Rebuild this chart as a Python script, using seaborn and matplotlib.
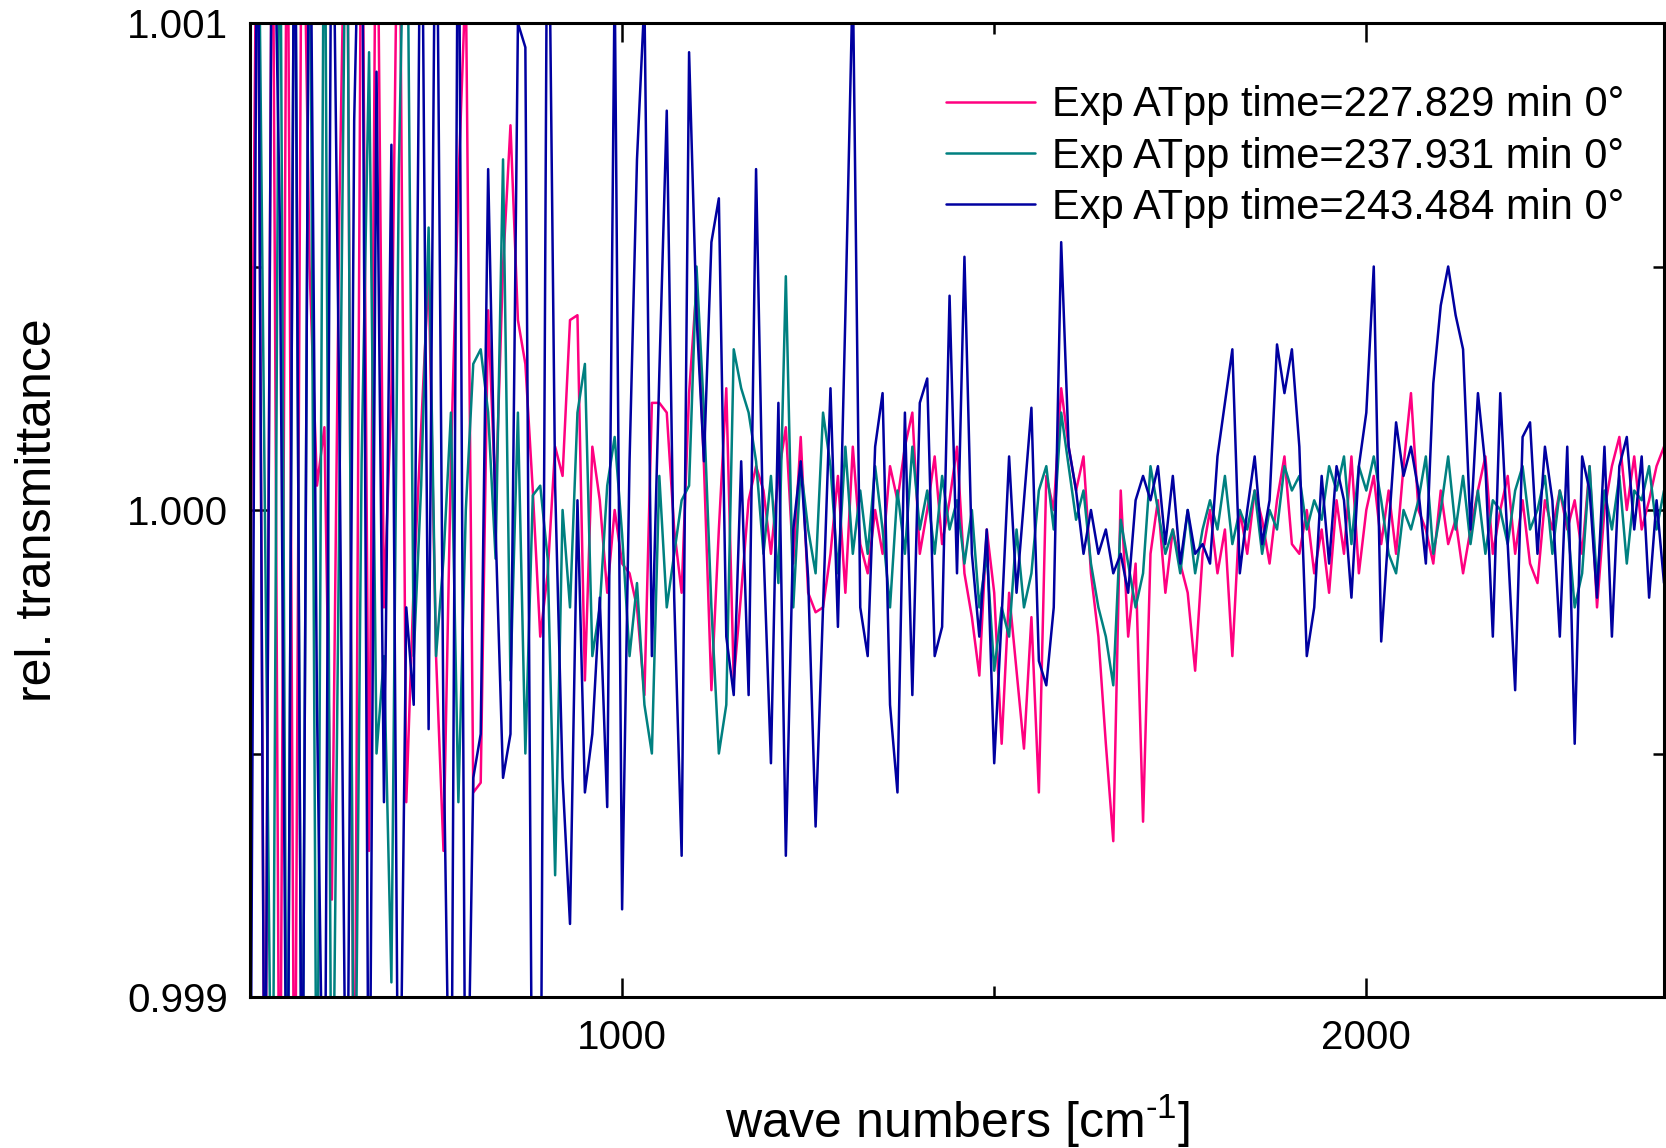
import numpy as np
import pandas as pd
import matplotlib
matplotlib.use("Agg")
import matplotlib.pyplot as plt
import seaborn as sns
from matplotlib.ticker import FixedLocator, FormatStrFormatter

# wave number grid [cm^-1]
wavenumbers = np.arange(500, 2401, 10)

# deviations from 1.0 in units of 1e-5
pink_dev = [
    -30, 150, -150, 150, -150, 150, -150, 150, 50, 5,
    17, -80, 61, 150, -150, 150, -70, 150, -20, 24,
    150, -60, -15, 17, 49, -30, -70, 10, 67, 110,
    -58, -56, 41, 2, 50, 79, 39, 30, 4, -26,
    -13, 13, 7, 39, 40, -35, 13, 2, -17, 0,
    -11, -13, -20, -38, 22, 22, 20, -4, -17, 24,
    46, 9, -37, -4, 25, -35, -17, 2, 9, 4,
    -9, 7, 17, -11, 15, -17, -21, -20, -9, 7,
    -17, 13, -7, -13, 0, -9, 9, 2, 13, 20,
    -9, 0, 11, -7, 2, 13, -13, -22, -34, -4,
    -17, -48, -17, -33, -49, -22, -58, 7, 0, 25,
    13, 4, 11, -13, -26, -48, -68, 4, -26, -11,
    -64, -9, 2, -17, -4, -11, -17, -33, -9, 0,
    -13, -4, -30, 0, -9, 4, -2, -11, 2, 11,
    -7, -9, 0, -13, -4, -17, 2, -9, 11, -13,
    0, 7, -7, 4, -9, 9, 24, 0, -4, -11,
    4, -7, -2, -13, -4, 4, 11, -9, 0, 7,
    -9, 2, -11, -15, 2, -4, 4, -4, 2, -9,
    9, -20, 0, 9, 15, 0, 11, -4, 2, 9,
    13]

teal_dev = [
    150, 150, 0, -150, 150, -150, 150, -150, 150, -150,
    150, -150, 0, 150, -150, 10, 94, -50, -30, -97,
    70, 150, -30, 5, 58, -30, -10, 20, -60, 0,
    30, 33, 20, -10, 72, -35, 20, -50, 3, 5,
    -10, -75, 0, -20, 20, 30, -30, -20, 5, 15,
    -5, -30, -15, -40, -50, 7, -20, -9, 2, 5,
    50, 20, -20, -50, -40, 33, 25, 20, 10, -9,
    7, -15, 48, -20, 9, -4, -13, 20, 9, -13,
    13, -9, 4, -9, 9, -4, -20, 4, -9, 13,
    -4, 4, -9, 7, -4, 2, -11, 0, -20, -9,
    -33, -20, -26, -4, -20, -13, 4, 9, -4, 20,
    9, -2, 4, -11, -20, -26, -36, -2, -11, -20,
    -13, 9, 0, -9, -4, -13, 0, -13, -4, 2,
    -4, 7, -7, 0, -4, 4, -9, 0, -4, 9,
    4, 7, -4, 2, -2, 9, 4, 11, -7, 9,
    4, 11, 2, -9, -13, 0, -4, 2, 11, -9,
    0, 11, -4, 7, -7, 4, -9, 2, 0, -7,
    4, 9, -4, 0, 7, -9, 4, -2, -20, -13,
    9, -15, 4, -4, 7, -11, 4, 2, 9, -4,
    4]

blue_dev = [
    -150, 150, -150, 150, 60, -150, 150, -150, 150, -40,
    -150, 150, 20, -150, 80, 150, -150, 90, -60, 75,
    -150, -20, -40, 150, -45, 150, -46, -150, 150, -150,
    -55, -46, 70, -4, -55, -46, 100, 95, -150, -150,
    150, 5, -55, -85, 2, -58, -46, -18, -61, 110,
    -82, 10, 72, 105, -30, 28, 82, -18, -71, 94,
    40, 10, 55, 64, -26, -38, 10, -38, 70, -8,
    -52, 22, -71, -4, 10, -14, -65, -20, 25, -24,
    40, 110, -20, -30, 13, 24, -40, -58, 20, -38,
    22, 27, -30, -24, 44, -13, 52, -9, -26, -4,
    -52, -22, 11, -17, 2, 21, -31, -36, -20, 55,
    13, 4, -9, 0, -9, -4, -13, -9, -17, 2,
    7, 2, 9, -7, 7, -11, 0, -9, -7, -11,
    11, 22, 33, -13, 0, 11, -7, 2, 34, 24,
    33, 13, -30, -20, 7, -11, 9, 2, -18, 9,
    20, 50, -27, -4, 18, 7, 13, 4, -11, 26,
    42, 50, 40, 33, -4, 24, 9, -26, 24, -7,
    -37, 15, 18, -9, 13, 2, -26, 13, -48, 11,
    4, -18, 13, -26, 9, 15, -4, 11, -18, 2,
    -15]

series_labels = [
    "Exp ATpp time=227.829 min 0°",
    "Exp ATpp time=237.931 min 0°",
    "Exp ATpp time=243.484 min 0°",
]
series_colors = ["#FF0080", "#008080", "#0000A0"]

frames = []
for lab, dev in zip(series_labels, [pink_dev, teal_dev, blue_dev]):
    frames.append(pd.DataFrame({
        "wn": wavenumbers,
        "T": 1.0 + np.array(dev, dtype=float) * 1e-5,
        "series": lab,
    }))
df = pd.concat(frames, ignore_index=True)

sns.set_theme(style="white")
plt.rcParams["font.family"] = ["Liberation Sans", "DejaVu Sans"]
plt.rcParams["mathtext.fontset"] = "custom"
plt.rcParams["mathtext.rm"] = "Liberation Sans"
plt.rcParams["mathtext.it"] = "Liberation Sans:italic"
plt.rcParams["text.color"] = "black"
plt.rcParams["axes.labelcolor"] = "black"
plt.rcParams["xtick.color"] = "black"
plt.rcParams["ytick.color"] = "black"

fig = plt.figure(figsize=(16.66, 11.48), dpi=100)
ax = fig.add_axes([250 / 1666, 1 - 997 / 1148, 1414 / 1666, (997 - 23) / 1148])

sns.lineplot(data=df, x="wn", y="T", hue="series", palette=series_colors,
             hue_order=series_labels, estimator=None, sort=False,
             linewidth=1.8, ax=ax)

ax.set_xlim(500, 2400)
ax.set_ylim(0.999, 1.001)

ax.xaxis.set_major_locator(FixedLocator([1000, 2000]))
ax.xaxis.set_minor_locator(FixedLocator([1500]))
ax.yaxis.set_major_locator(FixedLocator([0.999, 1.000, 1.001]))
ax.yaxis.set_minor_locator(FixedLocator([0.9995, 1.0005]))
ax.yaxis.set_major_formatter(FormatStrFormatter("%.3f"))

ax.tick_params(which="both", direction="in", top=True, right=True,
               bottom=True, left=True, colors="black", labelcolor="black",
               width=1.8)
ax.tick_params(which="major", length=14, labelsize=29, pad=16)
ax.tick_params(which="minor", length=8)

for sp in ax.spines.values():
    sp.set_color("black")
    sp.set_linewidth(2.2)

ax.set_xlabel(r"wave numbers [cm$^{\text{-}1}$]", fontsize=36, va="center",
              color="black")
ax.set_ylabel("rel. transmittance", fontsize=36, va="center", color="black")
ax.xaxis.set_label_coords(0.5, -0.128)
ax.yaxis.set_label_coords(-0.150, 0.5)

leg = ax.legend(loc="upper left", bbox_to_anchor=(0.492, 0.936),
                frameon=False, fontsize=30, handlelength=2.15,
                handletextpad=0.4, labelspacing=0.27, borderpad=0,
                borderaxespad=0)
for t in leg.get_texts():
    t.set_color("black")
for h in leg.get_lines():
    h.set_linewidth(1.8)

fig.savefig("out.png", dpi=100)
